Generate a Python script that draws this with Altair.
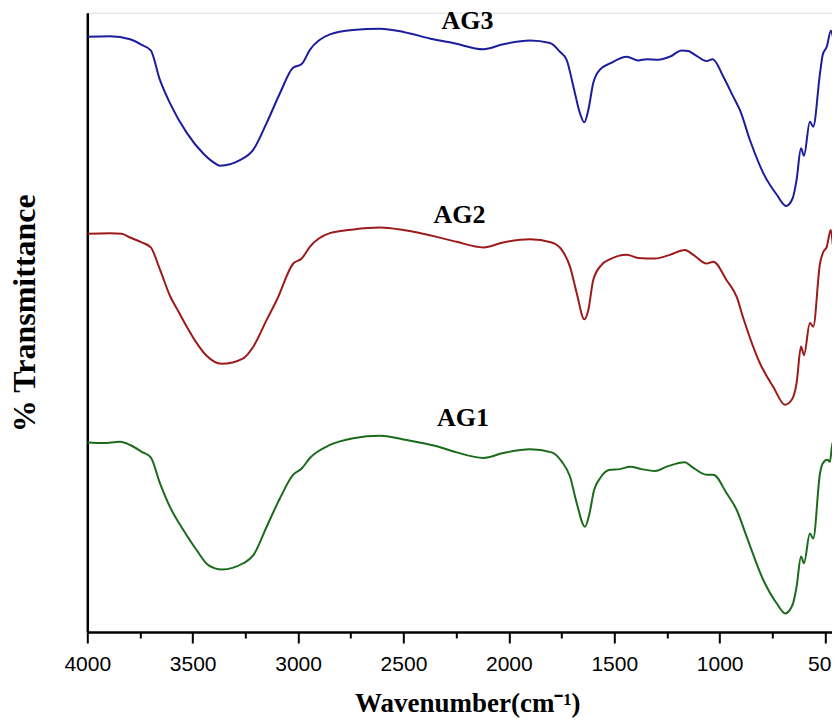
import altair as alt
import pandas as pd

# ---- data (wavenumber cm-1, % transmittance, offset spectra) ----
ag3_wn = [4000, 3892, 3797, 3742, 3699, 3655, 3608, 3528, 3451, 3404, 3370, 3276, 3214, 3149, 3086,
          3024, 2983, 2944, 2849, 2740, 2611, 2501, 2359, 2264, 2121, 2027, 1900, 1805, 1758, 1726,
          1694, 1663, 1642, 1623, 1600, 1568, 1520, 1441, 1386, 1346, 1291, 1236, 1180, 1149, 1117,
          1062, 1033, 983, 935, 904, 856, 793, 729, 685, 654, 635, 614, 600, 572, 556, 524, 511, 492,
          472, 456, 440, 429]
ag3_t = [96.1, 96.2, 95.7, 94.8, 93.9, 89.1, 85.4, 80.6, 77.3, 75.9, 75.3, 76.2, 77.8, 82.2, 87.0,
         91.1, 91.7, 94.0, 96.5, 97.2, 97.4, 96.9, 95.7, 95.1, 94.1, 94.9, 95.5, 95.1, 93.7, 92.4,
         88.1, 83.8, 82.3, 84.3, 88.6, 90.8, 91.8, 92.9, 92.3, 92.5, 92.4, 92.9, 93.9, 93.8, 93.2,
         92.2, 92.5, 89.7, 86.4, 84.3, 79.4, 74.1, 70.6, 68.8, 70.0, 73.0, 78.1, 76.9, 82.4, 81.6,
         90.2, 93.2, 94.5, 97.1, 95.1, 93.7, 96.1]

ag2_wn = [4000, 3892, 3837, 3797, 3742, 3699, 3655, 3608, 3565, 3528, 3480, 3434, 3362, 3260, 3212,
          3149, 3101, 3023, 2983, 2944, 2849, 2738, 2611, 2501, 2342, 2248, 2121, 2027, 1900, 1797,
          1749, 1710, 1678, 1642, 1623, 1600, 1560, 1520, 1441, 1386, 1307, 1236, 1165, 1125, 1062,
          1030, 967, 919, 888, 809, 746, 690, 658, 635, 614, 600, 572, 556, 524, 508, 492, 473, 456,
          442, 429]
ag2_t = [64.3, 64.4, 64.3, 63.7, 62.9, 62.1, 58.5, 54.3, 51.6, 49.3, 46.6, 44.6, 43.3, 44.2, 46.1,
         50.4, 53.6, 59.5, 60.3, 62.2, 64.4, 65.0, 65.3, 64.9, 63.8, 63.0, 62.1, 62.9, 63.4, 62.9,
         61.7, 59.0, 54.7, 50.5, 52.0, 56.8, 59.3, 60.2, 60.9, 60.4, 60.3, 60.9, 61.7, 60.9, 59.5,
         59.8, 56.8, 54.1, 50.7, 43.4, 39.6, 36.7, 37.5, 40.2, 46.1, 44.7, 49.9, 49.3, 59.5, 61.4,
         62.2, 64.9, 61.2, 62.0, 65.4]

ag1_wn = [4000, 3924, 3845, 3797, 3742, 3699, 3655, 3608, 3545, 3481, 3426, 3362, 3260, 3212, 3149,
          3086, 3023, 2983, 2944, 2849, 2738, 2611, 2501, 2342, 2248, 2121, 2027, 1900, 1797, 1749,
          1710, 1678, 1639, 1619, 1596, 1568, 1520, 1473, 1425, 1370, 1307, 1251, 1165, 1133, 1062,
          1030, 967, 919, 872, 793, 729, 689, 654, 635, 614, 600, 572, 556, 524, 511, 489, 477, 464,
          451, 442, 429]
ag1_t = [30.6, 30.5, 30.7, 30.2, 29.1, 28.2, 24.0, 20.2, 16.5, 13.2, 10.8, 10.1, 11.1, 12.4, 17.0,
         21.6, 25.4, 26.4, 28.1, 30.2, 31.3, 31.7, 31.1, 30.0, 29.0, 28.1, 28.9, 29.5, 29.0, 27.5,
         25.1, 20.8, 17.0, 18.9, 22.9, 24.8, 26.2, 26.3, 26.7, 26.3, 26.0, 26.7, 27.4, 26.7, 25.4,
         25.4, 22.4, 19.7, 15.4, 8.4, 4.6, 3.0, 4.4, 7.3, 12.2, 11.1, 15.9, 15.1, 25.6, 27.2,
         27.8, 27.5, 30.6, 28.1, 28.2, 34.2]

series_names = ["AG1", "AG2", "AG3"]
series_colors = ["#1c6b1c", "#9c1a1a", "#1c1c9c"]

label_names = ["AG3", "AG2", "AG1"]
label_wn = [2196, 2234, 2218]
label_t = [97.3, 66.0, 33.3]

tick_values = list(range(4000, 400, -250))

# ---- build table ----
rows = []
for name, wn, t in [("AG1", ag1_wn, ag1_t), ("AG2", ag2_wn, ag2_t), ("AG3", ag3_wn, ag3_t)]:
    assert len(wn) == len(t), name
    for w, v in zip(wn, t):
        rows.append({"sample": name, "wn": w, "t": v})
df = pd.DataFrame(rows)
labels_df = pd.DataFrame({"sample": label_names, "wn": label_wn, "t": label_t})

x_scale = alt.Scale(domain=[4000, 467], nice=False, zero=False)
y_scale = alt.Scale(domain=[0, 100], nice=False, zero=False)

x_axis = alt.Axis(
    values=tick_values,
    format="d",
    labelExpr="datum.value % 500 === 0 ? datum.label : ''",
    tickSize={"condition": {"test": "datum.value % 500 === 0", "value": 11}, "value": 6},
    tickWidth=2,
    tickColor="black",
    domainColor="black",
    domainWidth=2.5,
    labelFont="Liberation Sans",
    labelFontSize=21,
    labelColor="black",
    labelPadding=10,
    labelFlush=False,
    labelOverlap=False,
    labelBound=False,
    grid=False,
    title="Wavenumber(cm⁻¹)",
    titleFont="Liberation Serif",
    titleFontSize=27,
    titleFontWeight="bold",
    titleColor="black",
    titleY=79,
    titleX=380,
    titleBaseline="alphabetic",
)

y_axis = alt.Axis(
    ticks=False,
    labels=False,
    grid=False,
    domainColor="black",
    domainWidth=2.5,
    title="% Transmittance",
    titleFont="Liberation Serif",
    titleFontSize=32,
    titleFontWeight="bold",
    titleColor="black",
    titleX=-53,
    titleY=300,
    titleBaseline="alphabetic",
    titleAngle=270,
)

lines = alt.Chart(df).mark_line(strokeWidth=2, interpolate="monotone", clip=True).encode(
    x=alt.X("wn:Q", scale=x_scale, axis=x_axis),
    y=alt.Y("t:Q", scale=y_scale, axis=y_axis),
    color=alt.Color("sample:N", scale=alt.Scale(domain=series_names, range=series_colors), legend=None),
    order=alt.Order("wn:Q", sort="descending"),
    detail="sample:N",
)

texts = alt.Chart(labels_df).mark_text(
    font="Liberation Serif", fontSize=26, fontWeight="bold", color="black",
    align="center", baseline="alphabetic",
).encode(
    x=alt.X("wn:Q", scale=x_scale),
    y=alt.Y("t:Q", scale=y_scale),
    text="sample:N",
)

chart = alt.layer(lines, texts).properties(
    width=744.7,
    height=619.3,
    autosize=alt.AutoSizeParams(type="none"),
    padding={"left": 79.3, "top": 4.7, "right": 0, "bottom": 86},
).configure_view(stroke=None).configure(background="white")

chart.save("out.html", embed_options={"renderer": "svg", "actions": False})
